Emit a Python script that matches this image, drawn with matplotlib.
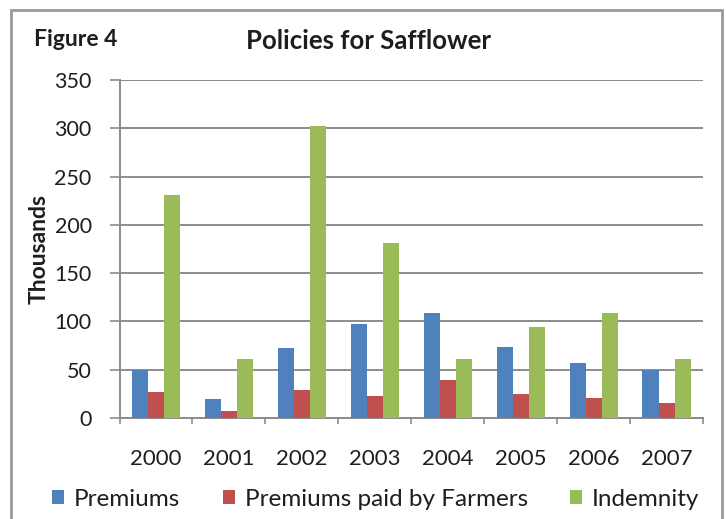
import matplotlib
matplotlib.use("Agg")
import matplotlib.pyplot as plt
from matplotlib.patches import Patch, Rectangle
import numpy as np

plt.rcParams['font.family'] = ['Lato', 'DejaVu Sans']

years = ["2000", "2001", "2002", "2003", "2004", "2005", "2006", "2007"]
premiums = [50, 20, 73, 97, 109, 74, 57, 50]
premiums_farmers = [27, 7, 29, 23, 39, 25, 21, 16]
indemnity = [231, 61, 302, 181, 61, 94, 109, 61]

series_names = ["Premiums", "Premiums paid by Farmers", "Indemnity"]
colors = ["#4F81BD", "#C0504D", "#9BBB59"]

W, H = 726, 519
fig = plt.figure(figsize=(W / 100, H / 100), dpi=100)
ax = fig.add_axes([119.5 / W, 1 - 418 / H, (703 - 119.5) / W, (418 - 80) / H])

x = np.arange(len(years))
w = 0.22
for i, (vals, c) in enumerate(zip([premiums, premiums_farmers, indemnity], colors)):
    ax.bar(x + (i - 1) * w, vals, width=w, color=c, zorder=3)

grid_c = "#8C8C8C"
text_c = "#1E1E1E"
ax.set_ylim(0, 350)
ax.set_xlim(-0.5, len(years) - 0.5)
ax.set_yticks(np.arange(0, 351, 50))
ax.yaxis.grid(True, color=grid_c, linewidth=1.4, zorder=0)
ax.set_axisbelow(True)

ax.set_xticks(np.arange(-0.5, len(years), 1.0))
ax.set_xticklabels([])
ax.set_xticks(x, minor=True)
ax.set_xticklabels(years, minor=True)
ax.tick_params(axis='x', which='major', length=4.5, color=grid_c, width=1.2)
ax.tick_params(axis='x', which='minor', length=0, pad=22, labelsize=16, labelcolor=text_c)
ax.tick_params(axis='y', length=7, color=grid_c, width=1.2, labelsize=15.5,
               labelcolor=text_c, pad=13)

for s in ["top", "right"]:
    ax.spines[s].set_visible(False)
for s in ["left", "bottom"]:
    ax.spines[s].set_color(grid_c)
    ax.spines[s].set_linewidth(1.4)

ax.set_ylabel("Thousands", fontsize=16.5, fontweight="bold", color=text_c)
ax.yaxis.set_label_coords((50 - 119.5) / (703 - 119.5), 0.5)

fig.text(368 / W, 1 - 41 / H, "Policies for Safflower", ha="center", va="center",
         fontsize=18.5, fontweight="bold", color=text_c)
fig.text(34 / W, 1 - 40 / H, "Figure 4", ha="left", va="center",
         fontsize=16.5, fontweight="bold", color=text_c)

handles = [Patch(facecolor=c, edgecolor="none") for c in colors]
fig.legend(handles, series_names, loc="center left",
           bbox_to_anchor=(52 / W, 1 - 499 / H), borderaxespad=0, borderpad=0,
           ncol=3, frameon=False, fontsize=17.5, handlelength=0.5, handleheight=0.5,
           handletextpad=0.4, columnspacing=1.75, labelcolor=text_c)

border = Rectangle((11 / W, -0.01), (722 - 11) / W, 1 - 10 / H + 0.01,
                   transform=fig.transFigure, fill=False, edgecolor="#9A9A9A",
                   linewidth=2.0)
fig.add_artist(border)

fig.savefig("out.png", dpi=100)
